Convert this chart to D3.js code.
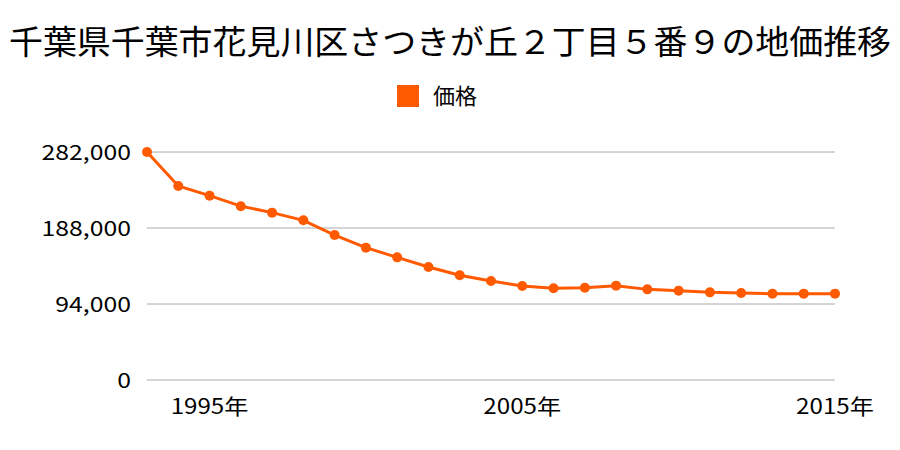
<!DOCTYPE html>
<html><head><meta charset="utf-8">
<script src="https://cdn.jsdelivr.net/npm/d3@7"></script>
<style>body{margin:0;background:#fff}svg{display:block}</style>
</head><body><svg id="c" width="900" height="450"></svg>
<script>
const years = [1993,1994,1995,1996,1997,1998,1999,2000,2001,2002,2003,2004,2005,2006,2007,2008,2009,2010,2011,2012,2013,2014,2015];
const prices = [282000,240000,228000,215000,207000,197500,179300,163700,151700,139800,129500,122400,116300,113400,114200,116700,112100,110500,108400,107600,106800,106800,106800];
const yTicks = [0,94000,188000,282000];
const xTickYears = [1995,2005,2015];
const title = "千葉県千葉市花見川区さつきが丘２丁目５番９の地価推移";
const seriesName = "価格";
const color = "#ff5a00";
const font = "'Noto Sans CJK JP', sans-serif";

const svg = d3.select("#c");
const x = d3.scaleLinear().domain([1993,2015]).range([147,835]);
const y = d3.scaleLinear().domain([0,282000]).range([380,152]);

svg.append("text").attr("x",450).attr("y",54).attr("text-anchor","middle")
  .attr("font-family",font).attr("font-size",33).attr("textLength",882).attr("lengthAdjust","spacingAndGlyphs").text(title);

svg.append("rect").attr("x",397).attr("y",85).attr("width",22).attr("height",22).attr("fill",color);
svg.append("text").attr("x",433).attr("y",104).attr("font-family",font).attr("font-size",22).text(seriesName);

const g = svg.append("g");
g.selectAll("line.grid").data(yTicks).join("line").attr("class","grid")
  .attr("x1",147).attr("x2",835).attr("y1",d=>y(d)).attr("y2",d=>y(d))
  .attr("stroke","#aaaaaa").attr("stroke-width",1);
const yl = g.selectAll("text.yl").data(yTicks).join("text").attr("class","yl")
  .attr("x",131).attr("y",d=>y(d)+7.5).attr("text-anchor","end")
  .attr("font-family",font).attr("font-size",21).text(d=>d3.format(",")(d));
yl.each(function(){ const w=this.getComputedTextLength(); d3.select(this).attr("textLength",w*1.18).attr("lengthAdjust","spacingAndGlyphs"); });
const xl = g.selectAll("text.xl").data(xTickYears).join("text").attr("class","xl")
  .attr("x",d=>x(d)).attr("y",414).attr("text-anchor","middle")
  .attr("font-family",font).attr("font-size",21).text(d=>d+"年");
xl.each(function(){ const w=this.getComputedTextLength(); d3.select(this).attr("textLength",w*1.15).attr("lengthAdjust","spacingAndGlyphs"); });

const line = d3.line().x((d,i)=>x(years[i])).y(d=>y(d));
g.append("path").datum(prices).attr("d",line).attr("fill","none").attr("stroke",color).attr("stroke-width",3);
g.selectAll("circle").data(prices).join("circle")
  .attr("cx",(d,i)=>x(years[i])).attr("cy",d=>y(d)).attr("r",5).attr("fill",color);
</script></body></html>
